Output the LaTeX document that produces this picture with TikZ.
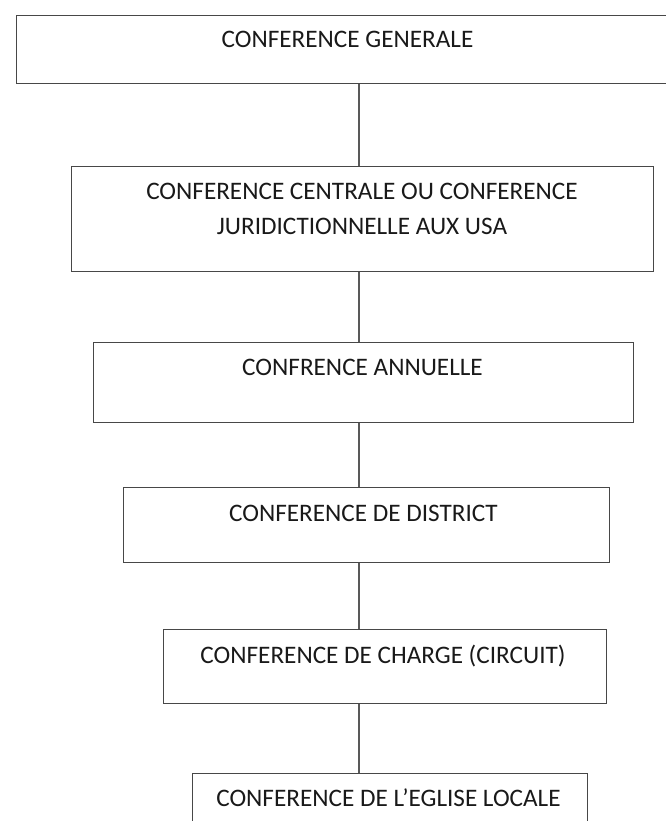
\documentclass[tikz,border=0pt]{standalone}
\usepackage{fontspec}
\setmainfont{Carlito}
\begin{document}
\begin{tikzpicture}[x=1pt,y=-1pt,
  box/.style={draw=black!72, line width=1.4pt, fill=none, anchor=north west, inner sep=0pt},
  lbl/.style={font=\fontsize{25.2}{35}\selectfont, text=black!90, inner sep=0pt, align=center, anchor=base},
  link/.style={draw=black!65, line width=1.3pt}]
\useasboundingbox (0,0) rectangle (665,821);
\coordinate (axis) at (359,0);
% boxes
\node[box, minimum width=660pt, minimum height=68pt] (b1) at (16,15) {};
\node[box, minimum width=582pt, minimum height=105pt] (b2) at (71,166) {};
\node[box, minimum width=540pt, minimum height=80pt] (b3) at (93,342) {};
\node[box, minimum width=486pt, minimum height=75pt] (b4) at (123,487) {};
\node[box, minimum width=443pt, minimum height=74pt] (b5) at (163,629) {};
\node[box, minimum width=395pt, minimum height=70pt] (b6) at (192,773) {};
% labels
\node[lbl] (t1) at (347.5,48) {CONFERENCE GENERALE};
\node[lbl, anchor=north] (t2) at (362,183) {CONFERENCE CENTRALE OU CONFERENCE\\JURIDICTIONNELLE AUX USA};
\node[lbl] (t3) at (362.5,375) {CONFRENCE ANNUELLE};
\node[lbl] (t4) at (363.5,521) {CONFERENCE DE DISTRICT};
\node[lbl] (t5) at (383,663) {CONFERENCE DE CHARGE (CIRCUIT)};
\node[lbl] (t6) at (388.5,806) {CONFERENCE DE L’EGLISE LOCALE};
% connectors
\draw[link] (b1.south -| axis) -- (b2.north -| axis);
\draw[link] (b2.south -| axis) -- (b3.north -| axis);
\draw[link] (b3.south -| axis) -- (b4.north -| axis);
\draw[link] (b4.south -| axis) -- (b5.north -| axis);
\draw[link] (b5.south -| axis) -- (b6.north -| axis);
\end{tikzpicture}
\end{document}
